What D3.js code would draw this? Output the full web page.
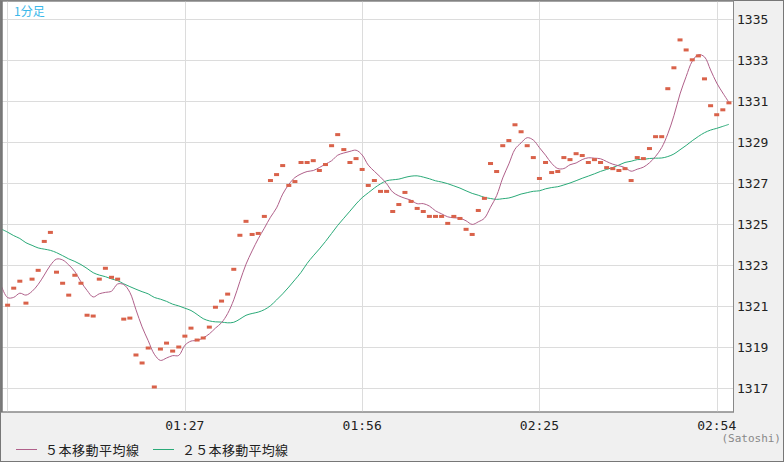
<!DOCTYPE html>
<html><head><meta charset="utf-8">
<script src="https://cdn.jsdelivr.net/npm/d3@7"></script>
<style>body{margin:0;background:#f0f0f0}svg{display:block}</style>
</head><body><svg id="c" width="784" height="462"></svg>
<script>
const closes=[1321.04,1321.87,1322.21,1321.14,1322.31,1322.74,1324.15,1324.59,1322.65,1322.11,1321.53,1322.50,1322.11,1320.55,1320.51,1322.31,1322.84,1322.40,1322.31,1320.36,1320.41,1318.61,1318.22,1318.95,1317.05,1318.90,1319.19,1318.80,1319.00,1319.53,1319.92,1319.34,1319.44,1319.97,1320.94,1321.24,1321.58,1322.79,1324.45,1325.13,1324.49,1324.54,
1325.37,1327.12,1327.41,1327.85,1326.88,1327.07,1328.00,1328.00,1328.09,1327.61,1327.90,1328.82,1329.36,1328.63,1328.00,1328.19,1327.66,1326.88,1327.12,1326.59,1326.59,1325.61,1325.95,1326.54,1326.10,1325.76,1325.61,1325.37,1325.37,1325.37,1325.03,1325.37,1325.27,1324.74,1324.49,1325.66,
1326.25,1327.95,1327.56,1328.82,1329.07,1329.84,1329.50,1328.82,1328.24,1327.22,1328.00,1327.51,1327.56,1328.24,1328.14,1328.43,1328.34,1328.00,1328.14,1328.00,1327.75,1327.70,1327.61,1327.70,1327.12,1328.24,1328.19,1328.68,1329.26,1329.26,1331.60,1332.62,1333.98,1333.49,1333.01,1333.20,1332.08,1330.77,1330.33,1330.57,1330.91];
const priorCloses=[1326.1,1325.7,1326.3,1325.5,1325.9,1325.6,1326.1,1325.4,1325.8,1325.5,1325.6,1325.9,1325.3,1325.7,1325.2,1324.8,1325.1,1324.5,1324.2,1323.8,1321.8,1321.2,1321.6,1321.4];
const yTicks=[1317,1319,1321,1323,1325,1327,1329,1331,1333,1335];
const xTickIdx=[29,58,87,116];
const xTickLabels=["01:27","01:56","02:25","02:54"];
const legendLabels=["5本移動平均線","２５本移動平均線"];

const svg=d3.select("#c");
const L=0,R=733.5,T=0,B=412;
const x=d3.scaleLinear().domain([0,118]).range([7.6,7.6+118*6.113]);
const y=d3.scaleLinear().domain([1317,1335]).range([388,19]);
svg.append("rect").attr("x",0.5).attr("y",0.5).attr("width",783).attr("height",461).attr("fill","#f0f0f0").attr("stroke","#777");
svg.append("rect").attr("x",1).attr("y",1).attr("width",R-1).attr("height",B-1).attr("fill","#fff").attr("stroke","#888");
const g=svg.append("g");
g.selectAll(".hg").data(yTicks).join("line").attr("x1",1).attr("x2",R).attr("y1",d=>Math.round(y(d))+.5).attr("y2",d=>Math.round(y(d))+.5).attr("stroke","#dcdcdc");
g.selectAll(".vg").data(xTickIdx).join("line").attr("y1",1).attr("y2",B).attr("x1",d=>Math.round(x(d))+.5).attr("x2",d=>Math.round(x(d))+.5).attr("stroke","#dcdcdc");
g.append("line").attr("x1",7.5).attr("x2",7.5).attr("y1",1).attr("y2",B).attr("stroke","#dcdcdc");
svg.append("line").attr("x1",1.5).attr("x2",1.5).attr("y1",1).attr("y2",B).attr("stroke","#777").attr("stroke-width",2);

const all=priorCloses.concat(closes),P=priorCloses.length;
function sma(n){return closes.map((_,i)=>d3.mean(all.slice(P+i-n+1,P+i+1)));}
const ma5=sma(5),ma25=sma(25);
const line=d3.line().x((d,i)=>x(i)).y(d=>y(d)).curve(d3.curveCatmullRom);
// extend to left edge using prior window
const ma5p=d3.mean(all.slice(P-5,P)),ma25p=d3.mean(all.slice(P-25<0?0:P-25,P));
const lineE=d3.line().x(d=>x(d[0])).y(d=>y(d[1])).curve(d3.curveCatmullRom);
svg.append("path").attr("d",lineE([[-1,ma25p]].concat(ma25.map((v,i)=>[i,v])))).attr("fill","none").attr("stroke","#2aaa78").attr("stroke-width",1);
svg.append("path").attr("d",lineE([[-1,ma5p]].concat(ma5.map((v,i)=>[i,v])))).attr("fill","none").attr("stroke","#b0608a").attr("stroke-width",1);
svg.selectAll(".pt").data(closes).join("rect").attr("x",(d,i)=>x(i)-2.5).attr("y",d=>y(d)-1.5).attr("width",5).attr("height",3).attr("fill","#d9624a");
svg.append("rect").attr("x",1).attr("y",1).attr("width",R-1).attr("height",B-1).attr("fill","none").attr("stroke","#888");
svg.append("line").attr("x1",1.5).attr("x2",1.5).attr("y1",1).attr("y2",B).attr("stroke","#777").attr("stroke-width",2);
svg.append("rect").attr("x",-1).attr("y",-1).attr("width",4).attr("height",B+2).attr("fill","none");

const f="'DejaVu Sans Mono', monospace";
svg.append("text").attr("x",14).attr("y",16).attr("fill","#3bb8ea").attr("font-size",12).attr("font-family","'Noto Sans CJK JP'").text("1分足");
svg.selectAll(".yl").data(yTicks).join("text").attr("x",737).attr("y",d=>y(d)+5).attr("font-size",13).attr("font-family",f).attr("fill","#222").text(d=>d);
svg.selectAll(".xl").data(xTickIdx).join("text").attr("x",d=>x(d)).attr("y",430).attr("text-anchor","middle").attr("font-size",13).attr("font-family",f).attr("fill","#222").text((d,i)=>xTickLabels[i]);
svg.append("text").attr("x",781).attr("y",442).attr("text-anchor","end").attr("font-size",11).attr("font-family",f).attr("fill","#888").text("(Satoshi)");
const lg=[{x:16,c:"#b0608a"},{x:153,c:"#2aaa78"}];
lg.forEach((d,i)=>{
 svg.append("line").attr("x1",d.x).attr("x2",d.x+21).attr("y1",449.5).attr("y2",449.5).attr("stroke",d.c);
 svg.append("text").attr("x",d.x+29).attr("y",455).attr("font-size",13).attr("font-family","'Noto Sans CJK JP'").attr("letter-spacing",i==0?"0.5":"0.3").attr("fill","#222").text(i==0?"５本移動平均線":legendLabels[i]);
});
</script></body></html>
